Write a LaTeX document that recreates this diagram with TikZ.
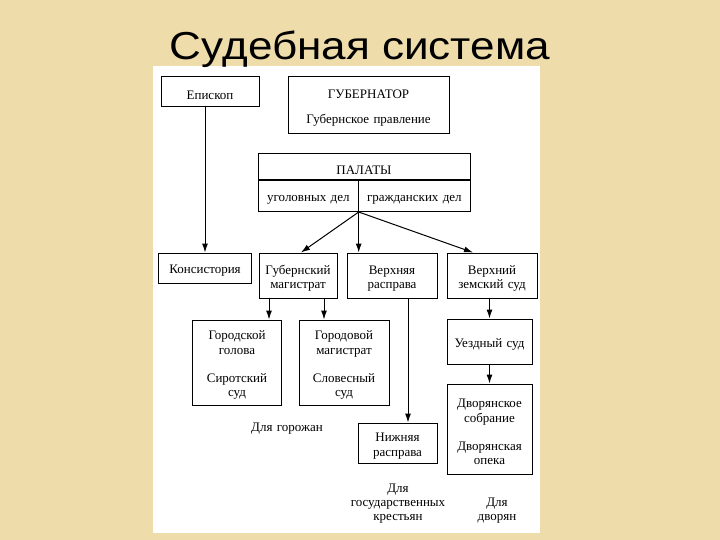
\documentclass[tikz,border=0pt]{standalone}
\usepackage{fontspec}
\setmainfont{Liberation Serif}
\newfontfamily\titlefont{Liberation Sans}
\usetikzlibrary{arrows.meta}

\definecolor{papyrus}{RGB}{238,220,170}

\tikzset{
  box/.style={draw, line width=1pt, inner sep=0pt, align=center,
    font=\fontsize{13}{14.3}\selectfont,
    execute at begin node={\rule{0pt}{14.5pt}}},
  lbl/.style={inner sep=0pt, align=center, font=\fontsize{13}{14.3}\selectfont,
    execute at begin node={\rule{0pt}{12pt}}},
  link/.style={line width=1pt, ->, >={Latex[length=9pt,width=6pt]}}
}

\begin{document}
\begin{tikzpicture}[x=1pt, y=-1pt]

\def \gap {14pt} % gap between the two parts of a box

\fill[papyrus] (0,0) rectangle (720,540);
\useasboundingbox (0,0) rectangle (720,540);
\fill[white] (153,66) rectangle (540,533);

\node[font=\titlefont\fontsize{39}{40}\selectfont, xscale=1.13,
  anchor=base] (title) at (360,60) {Судебная система};

% top
\node[box, text width=98, minimum height=30] (episkop) at (210,92) {Епископ};
\node[box, text width=161, minimum height=57] (gubernator) at (368.5,105.5)
  {ГУБЕРНАТОР\\[11pt]Губернское правление};

\node[box, text width=212, minimum height=26] (palhead) at (364,167) {ПАЛАТЫ};
\node[box, text width=99.7, minimum height=31, anchor=north west]
  (palcrim) at (258,180) {уголовных дел};
\node[box, text width=112.3, minimum height=31, anchor=north west]
  (palciv) at (357.7,180) {гражданских дел};

% middle row
\node[box, text width=93, minimum height=30] (konsist) at (205,268) {Консистория};
\node[box, text width=78, minimum height=45] (gubmag) at (298,275.5)
  {Губернский\\магистрат};
\node[box, text width=90, minimum height=45] (verhras) at (392,275.5)
  {Верхняя\\расправа};
\node[box, text width=90, minimum height=45] (verhzem) at (492,275.5)
  {Верхний\\земский суд};

% lower rows
\node[box, text width=89, minimum height=85] (golova) at (237,362.5)
  {Городской\\голова\\[\gap]Сиротский\\суд};
\node[box, text width=90, minimum height=85] (gormag) at (344,362.5)
  {Городовой\\магистрат\\[\gap]Словесный\\суд};
\node[box, text width=85, minimum height=45] (uezd) at (489.5,341.5) {Уездный суд};
\node[box, text width=85, minimum height=90] (dvor) at (489.5,429)
  {Дворянское\\собрание\\[\gap]Дворянская\\опека};
\node[box, text width=79, minimum height=40] (nizh) at (397.5,443)
  {Нижняя\\расправа};

\node[lbl, text width=100] (forcity) at (287,427) {Для горожан};
\node[lbl, text width=100] (forpeas) at (398,501.7) {Для\\государственных\\крестьян};
\node[lbl, text width=60] (fornobl) at (497,508.9) {Для\\дворян};

% connectors
\draw[link] (konsist.north |- episkop.south) -- (konsist.north);
\draw[link] (palcrim.south east) -- ([xshift=3pt]gubmag.north);
\draw[link] (palcrim.south east) -- (palcrim.south east |- verhras.north);
\draw[link] (palcrim.south east) -- ([xshift=-19pt]verhzem.north);
\foreach \dx/\dest in {-29/golova, 26/gormag}
{
  \draw[link] ([xshift=\dx pt]gubmag.south) -- ([xshift=\dx pt]gubmag.south |- \dest.north);
}
\draw[link] ([xshift=16pt]verhras.south) -- ([xshift=16pt]verhras.south |- nizh.north);
\draw[link] (uezd.north |- verhzem.south) -- (uezd.north);
\draw[link] (uezd.south) -- (dvor.north);

\end{tikzpicture}
\end{document}
